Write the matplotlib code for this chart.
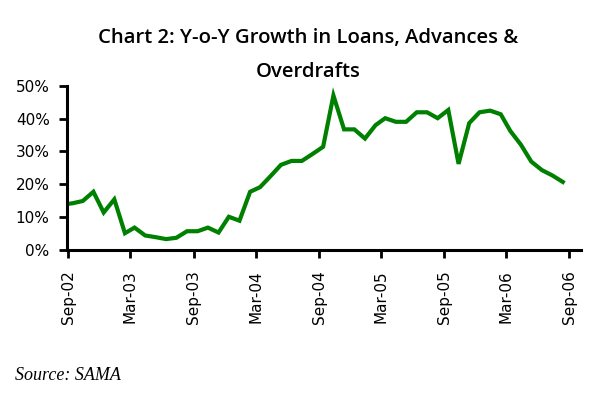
"""Chart 2: year-on-year growth in loans, advances and overdrafts (SAMA)."""

import matplotlib

matplotlib.use("Agg")
import matplotlib.dates as mdates
import matplotlib.pyplot as plt
import pandas as pd
from matplotlib.ticker import FuncFormatter, MultipleLocator

# monthly y-o-y growth, %, first value (Aug-02) sits just left of the axis
months = pd.date_range("2002-08-01", "2006-08-01", freq="MS")
growth = [
    13.8,
    14.2, 14.9, 17.7, 11.4, 15.4, 5.1, 6.8, 4.4, 3.9, 3.3, 3.7, 5.7,
    5.7, 6.8, 5.3, 10.1, 8.9, 17.7, 19.1, 22.5, 25.9, 27.1, 27.1, 29.2,
    31.4, 47.0, 36.7, 36.7, 33.9, 38.0, 40.1, 39.0, 39.0, 41.9, 41.9, 40.1,
    42.6, 26.2, 38.6, 41.9, 42.4, 41.3, 36.2, 32.0, 26.9, 24.3, 22.7, 20.7,
]
tick_months = pd.date_range("2002-09-01", "2006-09-01", freq="6MS")
title_lines = ["Chart 2: Y-o-Y Growth in Loans, Advances &", "Overdrafts"]
source_note = "Source: SAMA"

GREEN = "#008000"

fig = plt.figure(figsize=(6.09, 3.93), dpi=100)
ax = fig.add_axes([0.110, 0.364, 0.844, 0.418])

# observations are stamped mid-month, ticks fall on the first of the month
x = months + pd.Timedelta(days=12)
ax.plot(x, growth, color=GREEN, linewidth=3.0, solid_joinstyle="miter")

ax.set_xlim(pd.Timestamp("2002-08-28"), pd.Timestamp("2006-10-05"))
ax.set_ylim(0, 50)
ax.yaxis.set_major_locator(MultipleLocator(10))
ax.yaxis.set_major_formatter(FuncFormatter(lambda v, _: f"{v:.0f}%"))
ax.set_xticks(tick_months)
ax.xaxis.set_major_formatter(mdates.DateFormatter("%b-%y"))

for side in ["top", "right"]:
    ax.spines[side].set_visible(False)
for side in ["left", "bottom"]:
    ax.spines[side].set_linewidth(2.2)
ax.tick_params(axis="both", direction="out", length=5.5, width=2.0, labelsize=11)
ax.tick_params(axis="x", rotation=90, pad=9)
ax.tick_params(axis="y", pad=7)

title_font = dict(ha="center", va="baseline", fontsize=14.6,
                  family=["Open Sans", "DejaVu Sans"], fontweight="semibold")
fig.text(0.506, 0.890, title_lines[0], **title_font)
fig.text(0.506, 0.803, title_lines[1], **title_font)
fig.text(0.025, 0.033, source_note, ha="left", va="baseline", fontsize=13,
         family="Liberation Serif", style="italic")

fig.savefig("out.png", dpi=100)
